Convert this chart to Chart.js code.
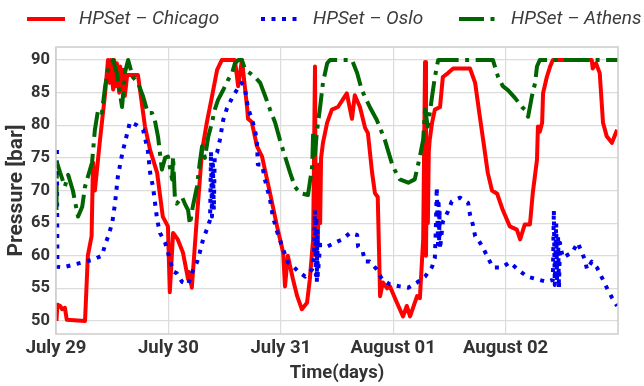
<!DOCTYPE html>
<html>
<head>
<meta charset="utf-8">
<title>HPSet pressure</title>
<script src="https://cdn.jsdelivr.net/npm/chart.js@4.4.1/dist/chart.umd.min.js"></script>
<style>
  html, body { margin: 0; padding: 0; background: #ffffff; }
  #wrap { width: 644px; height: 386px; }
</style>
</head>
<body>
<div id="wrap"><canvas id="chart" width="644" height="386"></canvas></div>
<script>
// Hours since July 29 00:00 and pressure readings [bar] per setpoint series
const chicagoHours = [0.1,0.3,0.9,1.3,1.9,2.3,6.2,6.8,7.6,7.9,8.3,9.4,10.5,11.1,11.5,11.7,12.2,12.4,12.8,13.0,13.5,13.7,14.1,14.3,14.7,15.2,17.5,19.0,20.1,21.6,22.8,23.9,24.3,25.0,26.0,27.1,28.2,28.4,29.0,30.1,31.2,32.2,33.3,34.4,35.4,38.2,38.9,39.7,40.8,41.0,41.8,42.9,44.0,45.7,47.2,48.5,48.9,49.5,50.6,51.5,52.5,53.6,54.2,54.9,55.3,55.5,55.7,55.9,56.2,56.4,56.6,57.0,57.9,58.9,60.2,62.1,63.2,63.8,64.9,66.0,66.6,67.5,68.1,68.7,69.2,69.8,70.7,71.3,72.8,74.1,74.9,75.6,77.1,77.7,78.4,78.8,79.0,79.2,79.4,79.6,79.8,80.3,80.9,82.0,82.6,83.7,84.8,88.4,89.5,90.5,91.2,92.2,93.1,94.2,95.4,96.9,98.4,99.1,100.1,101.2,101.8,102.7,102.9,103.3,103.8,104.0,104.8,105.5,106.1,114.4,114.6,115.3,116.1,116.8,117.6,118.7,119.8];
const chicagoBar = [50,52.5,52.3,51.8,52,50.2,50,60,63,74.3,70,77.8,85,90,86.5,90,85.5,90,86,89.5,85,89,85.5,88.5,84.5,87.7,87.7,79.8,76.2,72.7,66,64.5,54.4,63.5,62.5,60.5,56.4,57.5,55.1,66,76.2,80.4,84.4,88.5,90,90,86,90,82.8,81,80.5,76.8,75.2,69.6,64.5,60.5,55.3,60,56.4,53.8,51.8,52.8,56.4,62.5,89,60,72,62,74,65,75,77.3,80.4,82.4,82.8,84.9,81,84.6,82.8,79.6,78.8,72.7,69.6,69,53.8,55.9,55,55.3,52.8,50.7,52.3,50.7,53.8,53.5,62.5,89.7,60,75,65,76,77.8,80.4,82.4,82.8,87.4,88,88.7,88.7,86.5,81.3,77.8,72.7,70,69.5,67,64.5,64,62.5,64.8,64.8,69.6,74.7,79.8,79,80.4,84.9,87.4,89,90,90,88.7,89.5,88,80.4,78.3,77.3,79.3];

const osloHours = [0.2,0.3,1.5,3.6,5.8,7.9,9.8,10.5,11.1,12.0,12.6,13.2,14.1,14.7,15.8,17.3,18.6,19.6,20.1,20.7,21.6,22.2,23.3,23.9,25.0,25.8,26.9,28.2,29.0,30.1,30.7,31.4,32.2,32.9,33.1,33.3,33.5,33.7,33.9,34.4,35.0,35.7,36.5,37.6,38.6,39.7,40.4,41.0,41.8,42.5,42.9,43.1,44.0,44.6,45.7,46.3,47.2,48.5,49.5,50.6,51.7,53.2,54.7,55.1,55.3,55.5,55.6,55.7,55.8,55.9,56.4,57.9,59.6,61.1,62.8,64.3,64.5,65.5,66.0,67.0,68.5,69.6,71.3,73.4,75.2,77.1,78.8,80.3,80.9,81.1,81.3,81.6,81.7,81.8,81.9,82.0,82.6,83.7,84.5,86.3,88.0,88.4,89.0,89.5,90.1,91.2,92.2,93.3,95.2,96.9,98.6,100.6,102.7,104.8,106.1,106.3,106.5,106.8,107.0,107.2,107.4,107.6,108.2,110.2,111.4,112.3,112.9,113.4,114.4,115.5,116.6,117.6,118.7,119.8];
const osloBar = [76.2,58.3,58.2,58.6,59,59.4,60,61.7,62.9,65,68,72.1,75.5,77.3,80.5,80,79.3,76.2,72.7,70.6,65.5,63.5,62,60.5,57.6,57.3,56,55.6,57.3,59,60.5,62.5,64,65.5,76,66,74,67,75.5,75.8,77.8,80.8,82.6,84.2,85.4,86.5,85.4,82.6,81,79.3,77.3,74,74,71.7,68.6,66,63.7,61,59,58.4,57.6,56.8,57.9,60,67,57,66,56,64,57,61.7,61.4,62,62.5,63.5,63.2,61.4,60.6,59.1,59.1,57.9,56.4,55.6,55.3,55.1,55.9,56.8,58.3,59.7,64,70.5,61,68,62,67,61,65.2,66.8,68.3,68.9,68.1,66.3,64.8,63,62.5,61.2,59.7,58.2,58.2,59,57.9,56.8,56.4,56,56.3,67,55.5,65,56,63,55,62,59.7,60.5,62,60.5,59.4,57.9,59.1,58.2,56.6,55.1,53.6,52.3];

const athensHours = [0.1,0.2,0.9,1.9,2.6,3.6,4.7,5.6,6.2,6.8,7.7,8.3,9.0,9.8,10.5,11.1,12.2,13.0,14.1,14.7,15.4,16.4,17.5,18.6,19.6,20.5,21.1,21.8,22.6,23.3,23.9,24.8,25.0,25.4,25.8,26.9,27.5,28.2,28.6,29.2,30.1,30.7,31.2,31.8,32.5,33.3,33.9,34.6,35.7,36.7,37.6,38.2,38.9,39.7,40.4,41.4,42.5,43.6,44.6,45.7,46.8,47.8,48.9,50.0,51.0,52.1,53.8,54.7,54.9,55.3,55.7,56.4,57.0,57.9,58.5,63.2,64.3,65.3,67.0,68.5,70.2,71.9,73.4,75.2,76.6,77.7,78.4,78.8,79.4,80.3,80.9,81.6,93.3,94.4,95.4,96.5,98.0,99.5,100.1,100.8,101.6,102.3,102.7,103.3,120];
const athensBar = [67,74.3,72.7,70.6,72.4,70,66,67.5,70.6,72.1,74.3,79.3,82.4,81.9,86,88.5,90,88,82.8,88,90,87.4,86.5,84.4,81.9,81.9,80.8,78.2,73.2,75,75.2,71.7,75.2,68.6,68,69,68,67,64.8,67.5,70.6,74.3,76.8,75,78.2,80.4,82.4,83.9,85.4,86.9,88,89.5,90,90,88.5,88,87.4,86.5,84.6,82.4,80.4,77.8,75.2,72.7,70.6,69.6,69.3,73.7,78.8,75.5,79,82.8,86.5,89.5,90,90,88,85.4,82.8,80.8,77.8,73.7,71.7,71.2,71.7,75.2,77.8,82.4,79.8,84.4,87.4,90,90,87.4,86,85.4,84.2,82.8,82.4,81.3,84.4,86.5,89,90,90];

// Axis ticks
const dayTickHours = [0, 24, 48, 72, 96];
const dayTickLabels = ['July 29', 'July 30', 'July 31', 'August 01', 'August 02'];
const pressureTicks = [50, 55, 60, 65, 70, 75, 80, 85, 90];

const seriesLabels = ['HPSet \u2013 Chicago', 'HPSet \u2013 Oslo', 'HPSet \u2013 Athens'];

function toPoints(xs, ys) {
  return xs.map((x, i) => ({ x: x, y: ys[i] }));
}

const TEXT = '#333333';
const GRID = '#dcdcdc';

// Legend drawn above the plot in a single row
const topLegend = {
  id: 'topLegend',
  afterDraw(chart) {
    const ctx = chart.ctx;
    const starts = [27, 261, 459];
    const lineLen = 38;
    const textGap = 14;
    const yMid = 19;
    ctx.save();
    chart.data.datasets.forEach((ds, i) => {
      const x0 = starts[i];
      ctx.beginPath();
      ctx.setLineDash(ds.borderDash || []);
      ctx.lineDashOffset = 0;
      ctx.lineWidth = ds.borderWidth;
      ctx.strokeStyle = ds.borderColor;
      ctx.lineCap = 'butt';
      ctx.moveTo(x0, yMid);
      ctx.lineTo(x0 + lineLen, yMid);
      ctx.stroke();
      ctx.setLineDash([]);
      ctx.font = 'italic 19px Roboto, "Liberation Sans", sans-serif';
      ctx.fillStyle = '#3c3c3c';
      ctx.textBaseline = 'middle';
      ctx.textAlign = 'left';
      ctx.fillText(ds.label, x0 + lineLen + textGap, yMid);
    });
    ctx.restore();
  }
};

// White background and light frame around the plot area
const frame = {
  id: 'frame',
  beforeDraw(chart) {
    const ctx = chart.ctx;
    ctx.save();
    ctx.fillStyle = '#ffffff';
    ctx.fillRect(0, 0, chart.width, chart.height);
    ctx.restore();
  },
  afterDraw(chart) {
    const a = chart.chartArea;
    const ctx = chart.ctx;
    ctx.save();
    ctx.strokeStyle = '#cccccc';
    ctx.lineWidth = 1.5;
    ctx.strokeRect(a.left, a.top, a.right - a.left, a.bottom - a.top);
    ctx.restore();
  }
};

new Chart(document.getElementById('chart'), {
  type: 'line',
  data: {
    datasets: [
      {
        label: seriesLabels[0],
        data: toPoints(chicagoHours, chicagoBar),
        borderColor: '#ff0000',
        borderWidth: 4,
        borderDash: [],
        order: 3
      },
      {
        label: seriesLabels[1],
        data: toPoints(osloHours, osloBar),
        borderColor: '#0000ee',
        borderWidth: 4,
        borderDash: [4, 6.5],
        order: 2
      },
      {
        label: seriesLabels[2],
        data: toPoints(athensHours, athensBar),
        borderColor: '#006400',
        borderWidth: 4,
        borderDash: [25, 6.5, 4, 6.5],
        order: 1
      }
    ]
  },
  options: {
    responsive: false,
    animation: false,
    devicePixelRatio: 1,
    layout: { padding: { top: 47, right: 26, bottom: 0, left: 0 } },
    elements: {
      point: { radius: 0, hoverRadius: 0 },
      line: { tension: 0, fill: false, borderCapStyle: 'butt', borderJoinStyle: 'round' }
    },
    plugins: {
      legend: { display: false },
      tooltip: { enabled: false }
    },
    scales: {
      x: {
        type: 'linear',
        min: 0,
        max: 120,
        afterFit(scale) { scale.height = 52; },
        afterBuildTicks(scale) { scale.ticks = dayTickHours.map(v => ({ value: v })); },
        ticks: {
          autoSkip: false,
          maxRotation: 0,
          padding: 3,
          color: TEXT,
          font: { family: 'Roboto, "Liberation Sans", sans-serif', size: 18.5, weight: 'bold' },
          callback(value) {
            const i = dayTickHours.indexOf(value);
            return i >= 0 ? dayTickLabels[i] : '';
          }
        },
        grid: { color: GRID, lineWidth: 1.2, drawTicks: false },
        border: { display: false },
        title: {
          display: true,
          text: 'Time(days)',
          color: TEXT,
          padding: { top: 0, bottom: 2 },
          font: { family: 'Roboto, "Liberation Sans", sans-serif', size: 18.5, weight: 'bold' }
        }
      },
      y: {
        type: 'linear',
        min: 48,
        max: 92,
        afterFit(scale) { scale.width = 56; },
        afterBuildTicks(scale) { scale.ticks = pressureTicks.map(v => ({ value: v })); },
        ticks: {
          padding: 6,
          color: TEXT,
          font: { family: 'Roboto, "Liberation Sans", sans-serif', size: 16.5, weight: 'bold' }
        },
        grid: { color: GRID, lineWidth: 1.2, drawTicks: false },
        border: { display: false },
        title: {
          display: true,
          text: 'Pressure [bar]',
          color: TEXT,
          padding: { top: 4, bottom: 0 },
          font: { family: 'Roboto, "Liberation Sans", sans-serif', size: 21, weight: 'bold' }
        }
      }
    }
  },
  plugins: [frame, topLegend]
});
</script>
</body>
</html>
